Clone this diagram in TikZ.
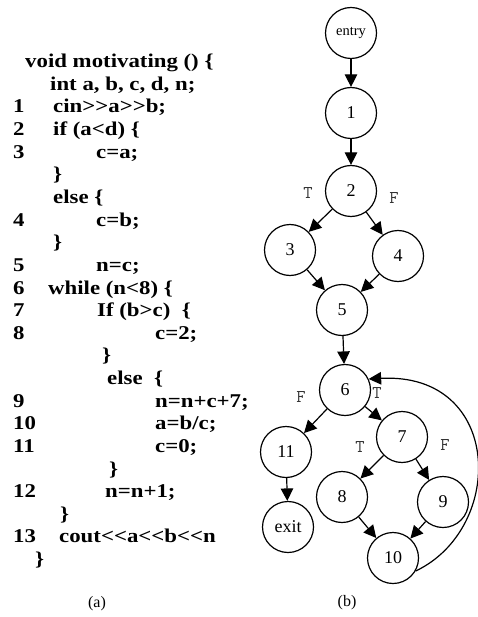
\documentclass[tikz,border=0pt]{standalone}
\usepackage{fontspec}
\setmainfont{Liberation Serif}
\newfontface\codefont[FakeStretch=1.17]{Liberation Serif Bold}
\usetikzlibrary{arrows.meta}

\begin{document}
\begin{tikzpicture}[x=1pt,y=-1pt,
  code/.style={anchor=base west,inner sep=0pt,font=\fontsize{19.5}{22}\codefont},
  blk/.style={circle,draw,line width=1.2pt,minimum size=51pt,inner sep=0pt,font=\fontsize{18}{20}\selectfont},
  flow/.style={line width=1.2pt,-{Triangle[length=12.5pt,width=12.5pt]}},
  tf/.style={inner sep=0pt,text=black!80,font=\fontsize{18}{20}\ttfamily}]
  \useasboundingbox (0,0) rectangle (478,617);

  \node[code] (l0) at (25,67.7) {void motivating () \{};
  \node[code] (l1) at (50,90.3) {int a, b, c, d, n;};
  \node[code] (k1) at (13,113.0) {1};
  \node[code] (l2) at (53,113.0) {cin>{}>a>{}>b;};
  \node[code] (k2) at (13,135.6) {2};
  \node[code] (l3) at (53,135.6) {if (a<d) \{};
  \node[code] (k3) at (13,158.2) {3};
  \node[code] (l4) at (96,158.2) {c=a;};
  \node[code] (l5) at (53,180.9) {\}};
  \node[code] (l6) at (53,203.5) {else \{};
  \node[code] (k4) at (13,226.1) {4};
  \node[code] (l7) at (96,226.1) {c=b;};
  \node[code] (l8) at (53,248.7) {\}};
  \node[code] (k5) at (13,271.4) {5};
  \node[code] (l9) at (96,271.4) {n=c;};
  \node[code] (k6) at (13,294.0) {6};
  \node[code] (l10) at (48,294.0) {while (n<8) \{};
  \node[code] (k7) at (13,316.6) {7};
  \node[code] (l11) at (97,316.6) {If (b>c)\ \ \{};
  \node[code] (k8) at (13,339.3) {8};
  \node[code] (l12) at (155,339.3) {c=2;};
  \node[code] (l13) at (102,361.9) {\}};
  \node[code] (l14) at (107,384.5) {else\ \ \{};
  \node[code] (k9) at (13,407.2) {9};
  \node[code] (l15) at (155,407.2) {n=n+c+7;};
  \node[code] (k10) at (13,429.8) {10};
  \node[code] (l16) at (155,429.8) {a=b/c;};
  \node[code] (k11) at (13,452.4) {11};
  \node[code] (l17) at (155,452.4) {c=0;};
  \node[code] (l18) at (109,475.0) {\}};
  \node[code] (k12) at (13,497.7) {12};
  \node[code] (l19) at (105,497.7) {n=n+1;};
  \node[code] (l20) at (60,520.3) {\}};
  \node[code] (k13) at (13,542.9) {13};
  \node[code] (l21) at (59,542.9) {cout<{}<a<{}<b<{}<n};
  \node[code] (l22) at (35,565.6) {\}};
  \node[font=\fontsize{16}{18}\selectfont] (capa) at (97,604) {(a)};

  \node[blk,font=\fontsize{14.5}{16}\selectfont] (entry) at (351,33) {entry};
  \node[blk] (b1) at (351,113) {1};
  \node[blk] (b2) at (351,191) {2};
  \node[blk] (b3) at (290,250) {3};
  \node[blk] (b4) at (398,256) {4};
  \node[blk] (b5) at (342,310) {5};
  \node[blk] (b6) at (345,390) {6};
  \node[blk] (b7) at (402,437) {7};
  \node[blk] (b11) at (286,452) {11};
  \node[blk] (b8) at (342,497) {8};
  \node[blk] (b9) at (443,502) {9};
  \node[blk] (exit) at (288,527) {exit};
  \node[blk] (b10) at (393,558) {10};
  \node[font=\fontsize{16}{18}\selectfont] (capb) at (347,603) {(b)};

  \node[tf] (t2) at (308,193) {T};
  \node[tf] (f2) at (394,198) {F};
  \node[tf] (f6) at (301,397) {F};
  \node[tf] (t6) at (377,393) {T};
  \node[tf] (t7) at (360,447) {T};
  \node[tf] (f7) at (445,445) {F};

  \draw[flow] (entry) -- (b1);
  \draw[flow] (b1) -- (b2);
  \draw[flow] (b2) -- (b3);
  \draw[flow] (b2) -- (b4);
  \draw[flow] (b3) -- (b5);
  \draw[flow] (b4) -- (b5);
  \draw[flow] (b5) -- (b6);
  \draw[flow] (b6) -- (b11);
  \draw[flow] (b6) -- (b7);
  \draw[flow] (b7) -- (b8);
  \draw[flow] (b7) -- (b9);
  \draw[flow] (b8) -- (b10);
  \draw[flow] (b9) -- (b10);
  \draw[flow] (b11) -- (exit);
  \draw[flow] (b10.-30) .. controls (506,528) and (503,372) .. (b6.25);
\end{tikzpicture}
\end{document}
